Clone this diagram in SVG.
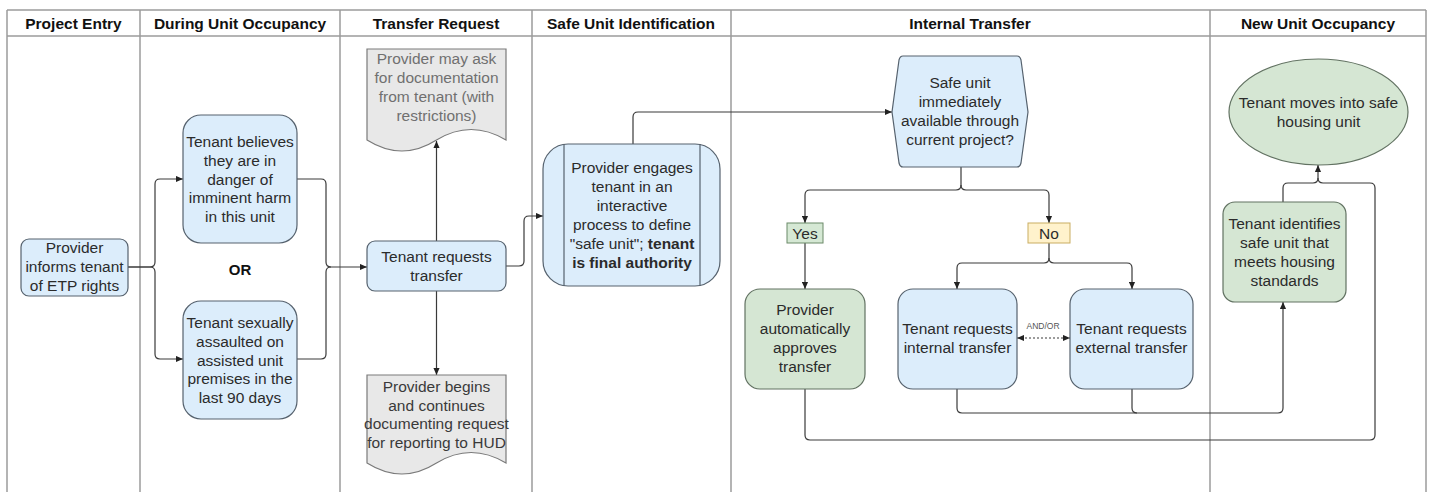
<svg xmlns="http://www.w3.org/2000/svg" width="1429" height="492" viewBox="0 0 1429 492">
<style>
.lane{stroke:#9c9c9c;stroke-width:1.5;fill:none}
.hd{font-family:"Liberation Sans",Arial,sans-serif;font-weight:bold;font-size:15.5px;fill:#111;text-anchor:middle}
.t{font-family:"Liberation Sans",Arial,sans-serif;font-size:15.5px;fill:#2b2b2b;text-anchor:middle}
.b{font-weight:bold}
.blue{fill:#dcedfb;stroke:#56626e;stroke-width:1.2}
.green{fill:#d5e6d3;stroke:#627262;stroke-width:1.2}
.doc{fill:#e8e8e8;stroke:#7a7a7a;stroke-width:1.2}
.c{fill:none;stroke:#3a3a3a;stroke-width:1.2}
</style>
<defs>
<marker id="ah" viewBox="0 0 8 8" refX="8" refY="4" markerWidth="7" markerHeight="7" markerUnits="userSpaceOnUse" orient="auto-start-reverse">
<path d="M0,0.5 L8,4 L0,7.5 Z" fill="#222"/>
</marker>
</defs>
<rect width="1429" height="492" fill="#fff"/>
<g id="lanes">
<path class="lane" d="M7,10 H1426 M7,36 H1426 M7,10 V492 M140,10 V492 M340,10 V492 M532,10 V492 M731,10 V492 M1210,10 V492 M1426,10 V492"/>
<text class="hd" x="73.5" y="29">Project Entry</text>
<text class="hd" x="240" y="29">During Unit Occupancy</text>
<text class="hd" x="436" y="29">Transfer Request</text>
<text class="hd" x="631" y="29">Safe Unit Identification</text>
<text class="hd" x="970" y="29">Internal Transfer</text>
<text class="hd" x="1318" y="29">New Unit Occupancy</text>
</g>
<g id="connectors">
<path class="c" marker-end="url(#ah)" d="M128,267 H150 Q155,267 155,262 V184 Q155,179 160,179 H183"/>
<path class="c" marker-end="url(#ah)" d="M128,267 H150 Q155,267 155,272 V354 Q155,359 160,359 H183"/>
<path class="c" marker-end="url(#ah)" d="M297,179 H321 Q326,179 326,184 V262 Q326,267 331,267 H367"/>
<path class="c" d="M297,359 H321 Q326,359 326,354 V272 Q326,267 331,267"/>
<path class="c" marker-end="url(#ah)" d="M436.5,241 V141"/>
<path class="c" marker-end="url(#ah)" d="M436.5,291 V375"/>
<path class="c" marker-end="url(#ah)" d="M506,266 H519 Q524,266 524,261 V221 Q524,216 529,216 H543"/>
<path class="c" marker-end="url(#ah)" d="M633,144 V117 Q633,112 638,112 H892"/>
<path class="c" marker-end="url(#ah)" d="M961,167 V185 Q961,190 956,190 H810 Q805,190 805,195 V223"/>
<path class="c" marker-end="url(#ah)" d="M961,185 Q961,190 966,190 H1044 Q1049,190 1049,195 V223"/>
<path class="c" marker-end="url(#ah)" d="M805,243 V289"/>
<path class="c" marker-end="url(#ah)" d="M1049,243 V258 Q1049,263 1044,263 H962 Q957,263 957,268 V289"/>
<path class="c" marker-end="url(#ah)" d="M1049,258 Q1049,263 1054,263 H1127 Q1132,263 1132,268 V289"/>
<path class="c" marker-end="url(#ah)" d="M957,389 V408 Q957,413 962,413 H1278 Q1283,413 1283,408 V302"/>
<path class="c" d="M1132,389 V408 Q1132,413 1137,413"/>
<path class="c" marker-end="url(#ah)" d="M805,389 V435 Q805,440 810,440 H1370 Q1375,440 1375,435 V188 Q1375,183 1370,183 H1323 Q1318,183 1318,178 V165"/>
<path class="c" d="M1283,202 V188 Q1283,183 1288,183 H1313 Q1318,183 1318,178"/>
<path class="c" stroke-dasharray="2,2" marker-start="url(#ah)" marker-end="url(#ah)" d="M1017,338 H1070"/>
<text x="1043" y="329" font-family="'Liberation Sans',Arial,sans-serif" font-size="8.5" fill="#555" text-anchor="middle">AND/OR</text>
</g>
<g id="provider-informs">
<rect class="blue" x="21" y="239" width="107" height="57" rx="8"/>
<text class="t"><tspan x="74.5" y="253">Provider</tspan><tspan x="74.5" y="272">informs tenant</tspan><tspan x="74.5" y="291">of ETP rights</tspan></text>
</g>
<g id="tenant-believes">
<rect class="blue" x="183" y="115" width="114" height="128" rx="18"/>
<text class="t"><tspan x="240" y="147">Tenant believes</tspan><tspan x="240" y="165.5">they are in</tspan><tspan x="240" y="184.5">danger of</tspan><tspan x="240" y="203">imminent harm</tspan><tspan x="240" y="222">in this unit</tspan></text>
</g>
<g id="or-label">
<text class="hd" x="240" y="275" style="font-size:15px">OR</text>
</g>
<g id="tenant-assaulted">
<rect class="blue" x="183" y="301" width="114" height="118" rx="18"/>
<text class="t"><tspan x="240" y="328">Tenant sexually</tspan><tspan x="240" y="346.5">assaulted on</tspan><tspan x="240" y="365.5">assisted unit</tspan><tspan x="240" y="384">premises in the</tspan><tspan x="240" y="403">last 90 days</tspan></text>
</g>
<g id="tenant-requests-transfer">
<rect class="blue" x="367" y="241" width="139" height="50" rx="8"/>
<text class="t"><tspan x="436.5" y="262">Tenant requests</tspan><tspan x="436.5" y="281">transfer</tspan></text>
</g>
<g id="doc-ask">
<path class="doc" d="M367,49 H506 V140 Q471,119 436.5,140 Q402,162 367,140 Z"/>
<text class="t" style="fill:#707070"><tspan x="436.5" y="64">Provider may ask</tspan><tspan x="436.5" y="83">for documentation</tspan><tspan x="436.5" y="102">from tenant (with</tspan><tspan x="436.5" y="121">restrictions)</tspan></text>
</g>
<g id="doc-document">
<path class="doc" d="M367,375 H506 V463 Q471,442 436.5,463 Q402,485 367,463 Z"/>
<text class="t" style="fill:#3a3a3a"><tspan x="436.5" y="392">Provider begins</tspan><tspan x="436.5" y="410.5">and continues</tspan><tspan x="436.5" y="429">documenting request</tspan><tspan x="436.5" y="447.5">for reporting to HUD</tspan></text>
</g>
<g id="provider-engages">
<rect class="blue" x="543" y="144" width="177" height="142" rx="25"/>
<path class="c" style="stroke:#56626e" d="M564,144 V286 M700,144 V286"/>
<text class="t"><tspan x="632" y="173">Provider engages</tspan><tspan x="632" y="192">tenant in an</tspan><tspan x="632" y="211">interactive</tspan><tspan x="632" y="230">process to define</tspan><tspan x="632" y="249">"safe unit"; <tspan class="b">tenant</tspan></tspan><tspan x="632" y="268" class="b">is final authority</tspan></text>
</g>
<g id="safe-unit-decision">
<path class="blue" d="M903,56 H1017 Q1020,56 1021,60 L1028,112 L1021,163 Q1020,167 1017,167 H903 Q900,167 899,163 L892,112 L899,60 Q900,56 903,56 Z"/>
<text class="t"><tspan x="960" y="88">Safe unit</tspan><tspan x="960" y="107">immediately</tspan><tspan x="960" y="126">available through</tspan><tspan x="960" y="145">current project?</tspan></text>
</g>
<g id="yes-label">
<rect x="787" y="223" width="36" height="20" fill="#d5e8d4" stroke="#6b8a68" stroke-width="1"/>
<text class="t" x="805" y="238.5">Yes</text>
</g>
<g id="no-label">
<rect x="1028" y="223" width="42" height="20" fill="#fff2cc" stroke="#c9ad62" stroke-width="1"/>
<text class="t" x="1049" y="238.5">No</text>
</g>
<g id="provider-approves">
<rect class="green" x="745" y="289" width="120" height="100" rx="15"/>
<text class="t"><tspan x="805" y="315">Provider</tspan><tspan x="805" y="334">automatically</tspan><tspan x="805" y="353">approves</tspan><tspan x="805" y="372">transfer</tspan></text>
</g>
<g id="internal-transfer">
<rect class="blue" x="898" y="289" width="119" height="100" rx="15"/>
<text class="t"><tspan x="957.5" y="334">Tenant requests</tspan><tspan x="957.5" y="353">internal transfer</tspan></text>
</g>
<g id="external-transfer">
<rect class="blue" x="1070" y="289" width="123" height="100" rx="15"/>
<text class="t"><tspan x="1131.5" y="334">Tenant requests</tspan><tspan x="1131.5" y="353">external transfer</tspan></text>
</g>
<g id="tenant-identifies">
<rect class="green" x="1223" y="202" width="123" height="100" rx="12"/>
<text class="t"><tspan x="1284.5" y="229">Tenant identifies</tspan><tspan x="1284.5" y="248">safe unit that</tspan><tspan x="1284.5" y="267">meets housing</tspan><tspan x="1284.5" y="286">standards</tspan></text>
</g>
<g id="tenant-moves">
<ellipse class="green" cx="1318.5" cy="112" rx="89.5" ry="53"/>
<text class="t"><tspan x="1318.5" y="108">Tenant moves into safe</tspan><tspan x="1318.5" y="127">housing unit</tspan></text>
</g>
</svg>
